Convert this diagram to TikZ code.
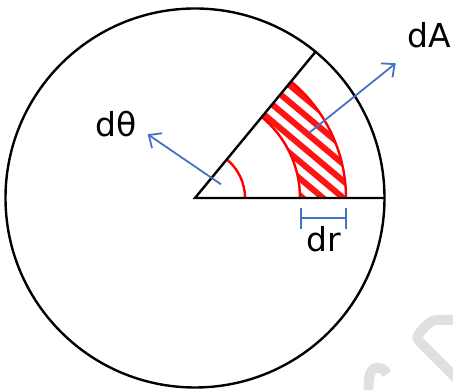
\documentclass[tikz,border=0pt]{standalone}
\usepackage{fontspec}
\setmainfont{DejaVu Sans}
\usetikzlibrary{arrows.meta}
\definecolor{arrowblue}{RGB}{68,114,196}
\definecolor{hatchred}{RGB}{255,0,0}
\definecolor{markgray}{RGB}{224,224,224}

\begin{document}
\begin{tikzpicture}[x=1pt,y=1pt,
  outline/.style={black,line width=2.4pt},
  redarc/.style={hatchred,line width=2.4pt},
  pointer/.style={arrowblue,line width=1.8pt,-{Straight Barb[length=10pt,width=18pt]}},
  lab/.style={font=\fontsize{33}{38}\selectfont,inner sep=0pt,anchor=base},
  wmark/.style={markgray,line width=10pt}]
\useasboundingbox (0,0) rectangle (453,390);
\draw[wmark,rounded corners=4pt] (462,70) -- (440,70) .. controls (431,70) and (424,63) .. (416,52) -- (462,6);
\draw[wmark] (387,16) .. controls (382,25) and (371,25) .. (369,12) -- (368,-6);
\begin{scope}[shift={(195,192)}]
\coordinate (O) at (0,0);
\coordinate (E) at (0:189.5);
\coordinate (S) at (50.5:189.5);
\begin{scope}
\clip (0:105) arc[start angle=0,end angle=50.5,radius=105] -- (50.5:151) arc[start angle=50.5,end angle=0,radius=151] -- cycle;
\begin{scope}[rotate=-40]
\foreach \k in {-8,...,10}{\draw[hatchred!92,line width=6pt] (-60,95.3+13*\k) -- (260,95.3+13*\k);}
\end{scope}
\end{scope}
\foreach \r in {50,105,151}{\draw[redarc] (0:\r) arc[start angle=0,end angle=50.5,radius=\r];}
\draw[outline] (O) circle[radius=189.5];
\draw[outline] (E) -- (O) -- (S);
\coordinate (thfoot) at (26,13.7);
\coordinate (thtip) at (-47.3,63.7);
\coordinate (afoot) at (114.3,65.3);
\coordinate (atip) at (200.7,134.7);
\coordinate (drl) at (105,-20.3);
\coordinate (drr) at (152,-20.3);
\draw[pointer] (thfoot) -- (thtip);
\draw[pointer] (afoot) -- (atip);
\draw[arrowblue,line width=1.8pt,{Bar[width=21pt]}-{Bar[width=21pt]}] (drl) -- (drr);
\node[lab] (dtheta) at (-79.2,61.3) {dθ};
\node[lab] (dA) at (234,150.7) {dA};
\node[lab] (dr) at (129,-53.7) {dr};
\end{scope}
\end{tikzpicture}
\end{document}
